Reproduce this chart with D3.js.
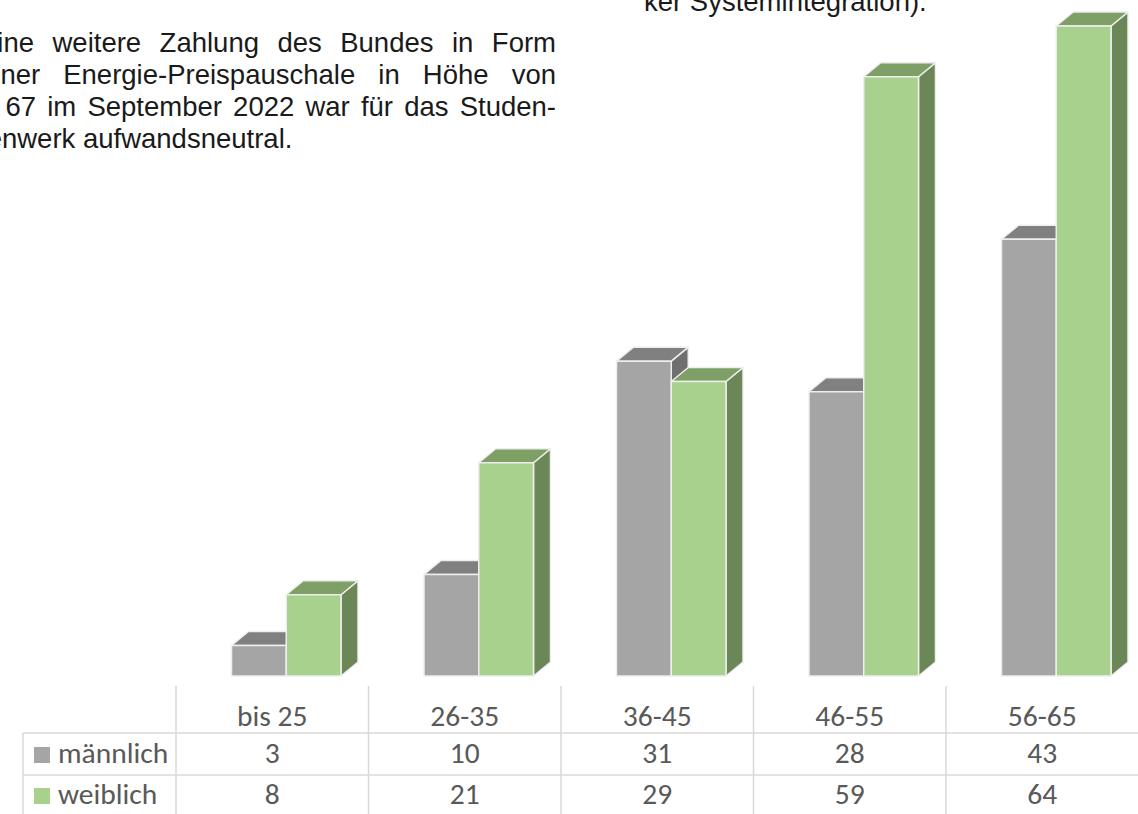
<!DOCTYPE html>
<html>
<head>
<meta charset="utf-8">
<script src="https://cdn.jsdelivr.net/npm/d3@7"></script>
<style>
  body { margin: 0; background: #fff; }
  svg { display: block; }
</style>
</head>
<body>
<div id="chart"></div>
<script>
// data
var categories = ["bis 25", "26-35", "36-45", "46-55", "56-65"];
var seriesNames = ["männlich", "weiblich"];
var maennlich = [3, 10, 31, 28, 43];
var weiblich = [8, 21, 29, 59, 64];

// page text around the chart
var leftLines = [
  "Eine weitere Zahlung des Bundes in Form",
  "einer Energie-Preispauschale in Höhe von",
  "€ 67 im September 2022 war für das Studen-",
  "tenwerk aufwandsneutral."
];
var rightLine = "ker Systemintegration).";

var W = 1138, H = 814;
var svg = d3.select("#chart").append("svg")
    .attr("width", W)
    .attr("height", H);

// justified paragraph (last line left aligned)
var pFont = "'Liberation Sans', Arial, sans-serif";
var pSize = 27.5;
var para = svg.append("g")
    .style("font-family", pFont)
    .style("font-size", pSize + "px")
    .style("fill", "#1a1a1a");

function drawLine(text, x0, x1, y, justify) {
  var words = text.split(" ");
  var widths = words.map(function(w) {
    var t = para.append("text").text(w);
    var l = t.node().getComputedTextLength();
    t.remove();
    return l;
  });
  var sum = d3.sum(widths);
  var gap = justify ? (x1 - x0 - sum) / (words.length - 1) : pSize * 0.278;
  var x = x0;
  words.forEach(function(w, i) {
    para.append("text").attr("x", x).attr("y", y).text(w);
    x += widths[i] + gap;
  });
}

leftLines.forEach(function(l, i) {
  drawLine(l, -21, 556, 52 + i * 32, i < leftLines.length - 1);
});
para.append("text").attr("x", 644).attr("y", 11).text(rightLine);

// scales
var x = d3.scaleBand()
    .domain(categories)
    .range([176, 176 + 192.5 * categories.length]);

var xs = d3.scaleBand()
    .domain(seriesNames)
    .range([55.5, 55.5 + 109.5]);

var y = d3.scaleLinear()
    .domain([0, 64])
    .range([676, 26]);

var dx = 17, dy = -14;
var colors = {
  "männlich": { front: "#a5a5a5", top: "#808080", side: "#6f6f6f" },
  "weiblich": { front: "#a9d18e", top: "#7e9f66", side: "#6b8757" }
};

var rows = [];
categories.forEach(function(c, i) {
  rows.push({ cat: c, s: "männlich", v: maennlich[i] });
  rows.push({ cat: c, s: "weiblich", v: weiblich[i] });
});

function pts(a) {
  return a.map(function(p) { return p.join(","); }).join(" ");
}

var bars = svg.append("g").selectAll("g")
    .data(rows)
    .enter().append("g");

bars.each(function(d) {
  var g = d3.select(this);
  var x0 = x(d.cat) + xs(d.s);
  var w = xs.bandwidth();
  var yt = y(d.v), yb = y(0);
  var c = colors[d.s];
  g.append("polygon")
    .attr("points", pts([[x0 + w, yt], [x0 + w + dx, yt + dy], [x0 + w + dx, yb + dy], [x0 + w, yb]]))
    .attr("fill", c.side);
  g.append("polygon")
    .attr("points", pts([[x0, yt], [x0 + w, yt], [x0 + w + dx, yt + dy], [x0 + dx, yt + dy]]))
    .attr("fill", c.top);
  g.append("rect")
    .attr("x", x0)
    .attr("y", yt)
    .attr("width", w)
    .attr("height", yb - yt)
    .attr("fill", c.front);
  g.selectAll("polygon, rect")
    .attr("stroke", "#eeeeee")
    .attr("stroke-width", 1.5)
    .attr("stroke-linejoin", "round");
});

// data table
var tFont = "Carlito, Calibri, Lato, sans-serif";
var table = svg.append("g")
    .style("font-family", tFont)
    .style("font-size", "29.5px")
    .style("fill", "#595959");

var lineCol = "#d9d9d9";
var tableLeft = 23, rowTop = [686, 733, 775];

x.domain().forEach(function(c) {
  table.append("line")
    .attr("x1", x(c)).attr("x2", x(c))
    .attr("y1", rowTop[0]).attr("y2", H)
    .attr("stroke", lineCol).attr("stroke-width", 1.5);
});
table.append("line")
  .attr("x1", tableLeft).attr("x2", tableLeft)
  .attr("y1", rowTop[1]).attr("y2", H)
  .attr("stroke", lineCol).attr("stroke-width", 1.5);
[rowTop[1], rowTop[2]].forEach(function(yy) {
  table.append("line")
    .attr("x1", tableLeft).attr("x2", W)
    .attr("y1", yy).attr("y2", yy)
    .attr("stroke", lineCol).attr("stroke-width", 1.5);
});

table.selectAll(".head")
  .data(categories)
  .enter().append("text")
  .attr("class", "head")
  .attr("x", function(d) { return x(d) + x.bandwidth() / 2; })
  .attr("y", 726)
  .attr("text-anchor", "middle")
  .text(function(d) { return d; });

var tableRows = [
  { name: "männlich", vals: maennlich, base: 763 },
  { name: "weiblich", vals: weiblich, base: 804 }
];

tableRows.forEach(function(r) {
  table.append("rect")
    .attr("x", 34).attr("y", r.base - 16)
    .attr("width", 16).attr("height", 16)
    .attr("fill", colors[r.name].front);
  table.append("text")
    .attr("x", 58).attr("y", r.base)
    .text(r.name);
  table.selectAll(null)
    .data(r.vals)
    .enter().append("text")
    .attr("x", function(d, i) { return x(categories[i]) + x.bandwidth() / 2; })
    .attr("y", r.base)
    .attr("text-anchor", "middle")
    .text(function(d) { return d; });
});
</script>
</body>
</html>
